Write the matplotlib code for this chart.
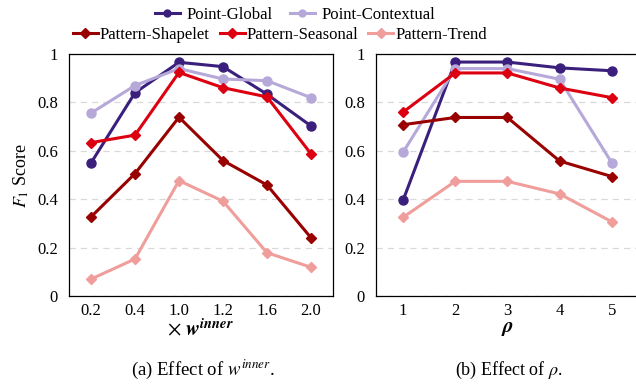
import matplotlib
matplotlib.use("Agg")
import matplotlib.pyplot as plt
from matplotlib.lines import Line2D

plt.rcParams["font.family"] = ["Liberation Serif", "DejaVu Serif"]
plt.rcParams["mathtext.fontset"] = "stix"

# ---- data ----
w_labels = ["0.2", "0.4", "1.0", "1.2", "1.6", "2.0"]
rho_labels = ["1", "2", "3", "4", "5"]

series_names = ["Point-Global", "Point-Contextual", "Pattern-Shapelet",
                "Pattern-Seasonal", "Pattern-Trend"]

w_point_global = [0.55, 0.84, 0.966, 0.948, 0.834, 0.703]
w_point_contextual = [0.756, 0.870, 0.94, 0.897, 0.89, 0.82]
w_shapelet = [0.327, 0.506, 0.739, 0.56, 0.459, 0.241]
w_seasonal = [0.634, 0.665, 0.924, 0.861, 0.823, 0.588]
w_trend = [0.07, 0.153, 0.477, 0.392, 0.179, 0.119]

rho_point_global = [0.395, 0.967, 0.967, 0.943, 0.931]
rho_point_contextual = [0.594, 0.94, 0.94, 0.896, 0.551]
rho_shapelet = [0.708, 0.738, 0.738, 0.558, 0.494]
rho_seasonal = [0.76, 0.922, 0.922, 0.86, 0.82]
rho_trend = [0.325, 0.474, 0.474, 0.422, 0.307]

colors = ["#3b1f7c", "#b6a9d9", "#990000", "#dd0010", "#f09e9b"]
markers = ["o", "o", "D", "D", "D"]

fig = plt.figure(figsize=(6.36, 3.89), dpi=100)
ax1 = fig.add_axes([0.1085, 0.239, 0.415, 0.622])
ax2 = fig.add_axes([0.591, 0.239, 0.4135, 0.622])


def draw(ax, labels, data, xlim):
    xs = range(len(labels))
    for vals, c, m in zip(data, colors, markers):
        ms = 6.5 if m == "o" else 5.5
        ax.plot(xs, vals, color=c, marker=m, markersize=ms, linewidth=2.2)
    ax.set_xticks(list(xs))
    ax.set_xticklabels(labels)
    ax.set_xlim(*xlim)
    ax.set_ylim(0, 1)
    ax.set_yticks([0, 0.2, 0.4, 0.6, 0.8, 1])
    ax.set_yticklabels(["0", "0.2", "0.4", "0.6", "0.8", "1"])
    ax.tick_params(axis="y", length=0, labelsize=12, pad=8)
    ax.tick_params(axis="x", length=0, labelsize=12, pad=5)
    ax.yaxis.grid(True, linestyle=(0, (5, 4)), color="#d9d9d9", linewidth=0.9)
    ax.set_axisbelow(True)
    for s in ax.spines.values():
        s.set_linewidth(0.9)


draw(ax1, w_labels,
     [w_point_global, w_point_contextual, w_shapelet, w_seasonal, w_trend],
     (-0.5, 5.5))
draw(ax2, rho_labels,
     [rho_point_global, rho_point_contextual, rho_shapelet, rho_seasonal, rho_trend],
     (-0.52, 4.52))

ax1.set_ylabel(r"$F_1$ Score", fontsize=13, labelpad=4)
ax1.set_xlabel(r"$\times\ \mathbfit{w}^{\mathbfit{inner}}$", fontsize=15, labelpad=0)
ax2.set_xlabel(r"$\mathbfit{\rho}$", fontsize=15, labelpad=0)

fig.text(0.32, 0.035, r"(a) Effect of $w^{inner}$.", ha="center", fontsize=13.5)
fig.text(0.80, 0.035, r"(b) Effect of $\rho$.", ha="center", fontsize=13)

handles = [Line2D([], [], color=c, marker=m, markersize=5, linewidth=2.2)
           for c, m in zip(colors, markers)]
fig.legend(handles[:2], series_names[:2], loc="center", ncol=2,
           bbox_to_anchor=(0.464, 0.962), frameon=False, fontsize=12,
           handlelength=1.5, handletextpad=0.42, columnspacing=1.0,
           borderpad=0, borderaxespad=0)
fig.legend(handles[2:], series_names[2:], loc="center", ncol=3,
           bbox_to_anchor=(0.44, 0.911), frameon=False, fontsize=12,
           handlelength=1.5, handletextpad=0.12, columnspacing=0.6,
           borderpad=0, borderaxespad=0)

fig.savefig("out.png", dpi=100)
